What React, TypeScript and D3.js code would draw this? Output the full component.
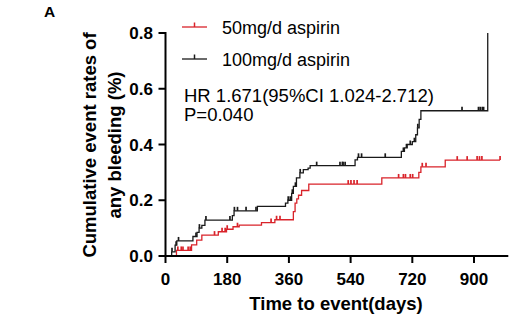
import React from "react";
import * as d3 from "d3";

const seriesNames = ["50mg/d aspirin", "100mg/d aspirin"];
const seriesColors = ["#d9232a", "#1a1a1a"];

// 100mg/d (black) step curve
const blackDays = [0, 18, 28, 33, 80, 92, 98, 106, 115, 195, 200, 268, 350, 357, 368, 373, 382, 392, 402, 416, 422, 553, 560, 688, 697, 705, 720, 730, 735, 740, 745, 940];
const blackVals = [0, 0.015, 0.039, 0.054, 0.07, 0.085, 0.1, 0.11, 0.129, 0.145, 0.162, 0.178, 0.19, 0.2, 0.225, 0.25, 0.28, 0.298, 0.31, 0.315, 0.324, 0.345, 0.354, 0.375, 0.388, 0.4, 0.41, 0.435, 0.46, 0.49, 0.521, 0.8];
const blackCensor = [19, 31, 38, 89, 99, 118, 188, 201, 210, 235, 264, 358, 364, 370, 379, 393, 441, 509, 516, 518, 524, 563, 572, 641, 694, 703, 714, 726, 736, 865, 913, 918, 924, 928];

// 50mg/d (red) step curve
const redDays = [0, 32, 76, 91, 106, 154, 178, 197, 215, 280, 319, 373, 378, 383, 388, 397, 418, 631, 739, 745, 816, 976];
const redVals = [0, 0.02, 0.04, 0.057, 0.075, 0.087, 0.096, 0.105, 0.111, 0.12, 0.13, 0.159, 0.19, 0.205, 0.218, 0.235, 0.258, 0.28, 0.3, 0.32, 0.344, 0.344];
const redCensor = [36, 46, 51, 66, 72, 143, 165, 174, 180, 210, 308, 324, 334, 533, 541, 550, 559, 680, 694, 700, 714, 721, 749, 760, 851, 880, 909, 916, 923, 976];

const xTicks = [0, 180, 360, 540, 720, 900];
const yTicks = [0, 0.2, 0.4, 0.6, 0.8];

const statLines = ["HR 1.671(95%CI 1.024-2.712)", "P=0.040"];

const FONT = "'Liberation Sans', Arial, sans-serif";

function stepValue(days: number[], vals: number[], d: number) {
  let v = vals[0];
  for (let i = 0; i < days.length; i++) {
    if (days[i] <= d) v = vals[i];
  }
  return v;
}

export default function App() {
  const x = d3.scaleLinear().domain([0, 1000]).range([165.5, 508.3]);
  const y = d3.scaleLinear().domain([0, 0.8]).range([256, 33]);
  const line = d3
    .line<[number, number]>()
    .x((d) => x(d[0]))
    .y((d) => y(d[1]))
    .curve(d3.curveStepAfter);

  const series = [
    { days: redDays, vals: redVals, censor: redCensor, color: seriesColors[0] },
    { days: blackDays, vals: blackVals, censor: blackCensor, color: seriesColors[1] },
  ];

  return (
    <svg
      width={516}
      height={332}
      style={{ position: "absolute", left: 0, top: 0, background: "#fff" }}
      fontFamily={FONT}
    >
      <rect width={516} height={332} fill="#fff" />
      <text x={44} y={17} fontSize={15.5} fontWeight="bold">A</text>

      {/* curves */}
      {series.map((s, i) => {
        const pts = s.days.map((d, j) => [d, s.vals[j]] as [number, number]);
        return (
          <g key={i}>
            <path d={line(pts) || ""} fill="none" stroke={s.color} strokeWidth={1.3} />
            {s.censor.map((c, k) => {
              const v = stepValue(s.days, s.vals, c);
              return (
                <line
                  key={k}
                  x1={x(c)}
                  x2={x(c)}
                  y1={y(v)}
                  y2={y(v) - 4}
                  stroke={s.color}
                  strokeWidth={1.7}
                />
              );
            })}
          </g>
        );
      })}

      {/* axes */}
      <g stroke="#000" strokeWidth={2}>
        <line x1={x(0)} x2={x(0)} y1={y(0.8) - 1} y2={y(0) + 1} />
        <line x1={x(0) - 1} x2={x(1000)} y1={y(0)} y2={y(0)} />
        {yTicks.map((t) => (
          <line key={t} x1={x(0) - 7} x2={x(0)} y1={y(t)} y2={y(t)} />
        ))}
        {xTicks.map((t) => (
          <line key={t} x1={x(t)} x2={x(t)} y1={y(0)} y2={y(0) + 7} />
        ))}
      </g>
      {yTicks.map((t) => (
        <text key={t} x={153} y={y(t)} dy="0.36em" textAnchor="end" fontSize={17} fontWeight="bold">
          {d3.format(".1f")(t)}
        </text>
      ))}
      {xTicks.map((t) => (
        <text key={t} x={x(t)} y={285} textAnchor="middle" fontSize={17} fontWeight="bold">
          {t}
        </text>
      ))}
      <text x={336} y={310} textAnchor="middle" fontSize={18.5} fontWeight="bold">
        Time to event(days)
      </text>
      <g transform="translate(0,145) rotate(-90)" fontSize={18.5} fontWeight="bold" textAnchor="middle">
        <text x={0} y={96}>Cumulative event rates of</text>
        <text x={0} y={121}>any bleeding (%)</text>
      </g>

      {/* legend */}
      {seriesNames.map((n, i) => {
        const ly = 27 + i * 32;
        return (
          <g key={n}>
            <line x1={182} x2={207} y1={ly} y2={ly} stroke={seriesColors[i]} strokeWidth={1.3} />
            <line x1={194.5} x2={194.5} y1={ly} y2={ly - 4.5} stroke={seriesColors[i]} strokeWidth={1.5} />
            <text x={222} y={ly + 6.5} fontSize={18}>{n}</text>
          </g>
        );
      })}
      {statLines.map((s, i) => (
        <text key={s} x={184} y={102 + i * 19} fontSize={18.5}>{s}</text>
      ))}
    </svg>
  );
}
